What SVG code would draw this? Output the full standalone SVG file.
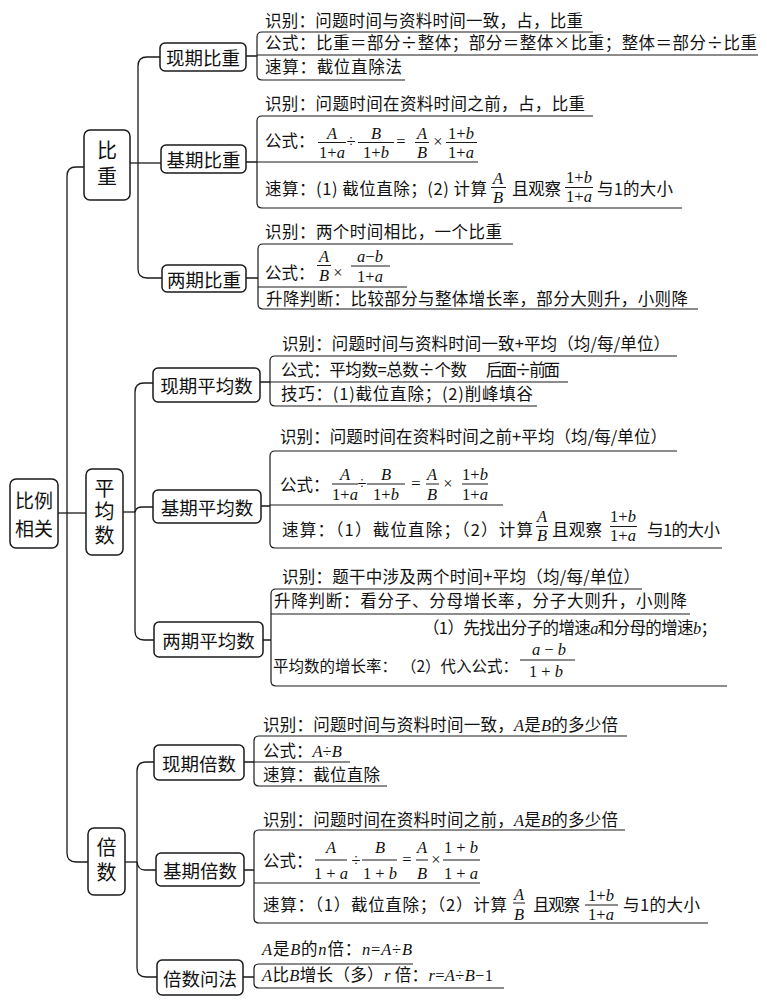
<svg xmlns="http://www.w3.org/2000/svg" width="767" height="1004" viewBox="0 0 767 1004">
<style>
.bx{fill:#fff;stroke:#1a1a1a;stroke-width:1.5}
.ln{fill:none;stroke:#1a1a1a;stroke-width:1.3}
.ul{fill:none;stroke:#1a1a1a;stroke-width:1.2}
.fb{stroke:#1a1a1a;stroke-width:1}
.nt{font-family:"Noto Sans CJK SC",sans-serif;font-size:18.5px;fill:#111;text-anchor:middle;dominant-baseline:central}
.bt{font-size:20px}
.vt{font-family:"Noto Sans CJK SC",sans-serif;font-size:20px;fill:#111;text-anchor:middle;writing-mode:vertical-rl}
.t{font-family:"Noto Sans CJK SC",sans-serif;font-size:16.5px;fill:#111}
.m{font-family:"Liberation Serif",serif;font-size:16.5px;fill:#111;text-anchor:middle}
.i{font-family:"Liberation Serif",serif;font-style:italic}
</style>
<rect width="767" height="1004" fill="#fff"/>

<g id="connectors" class="ln">
<path d="M58 513H86"/>
<path d="M84 167H76Q67 167 67 176V853Q67 862 76 862H88"/>
<path d="M130 163H161"/>
<path d="M160 57H147Q138 57 138 66V269Q138 278 147 278H162"/>
<path d="M123 512H135"/>
<path d="M135 512Q136 507 142 507H153"/>
<path d="M153 383H144Q135 383 135 392V631Q135 640 144 640H154"/>
<path d="M125 862H137"/>
<path d="M137 862Q138 870 145 870H156"/>
<path d="M154 762H146Q137 762 137 771V968Q137 977 146 977H157"/>
<path d="M246 56H257M246 162H257M246 278H258M260 382H270M261 506H270M263 640H271M244 762H254M244 870H254M243 977H254"/>
</g>

<g id="root">
<rect class="bx" x="10" y="479" width="48" height="69" rx="6"/>
<text class="nt" style="font-size:19px"><tspan x="34" y="499">比例</tspan><tspan x="34" y="526.5">相关</tspan></text>
</g>

<g id="bizhong">
<rect class="bx" x="84" y="130" width="46" height="70" rx="6"/>
<text class="vt" x="107" y="166" style="letter-spacing:6px">比重</text>
</g>

<g id="pingjunshu">
<rect class="bx" x="86" y="469" width="37" height="86" rx="6"/>
<text class="vt" x="104.5" y="513.5" style="letter-spacing:3.5px">平均数</text>
</g>

<g id="beishu">
<rect class="bx" x="88" y="828" width="37" height="67" rx="6"/>
<text class="vt" x="106.5" y="862.5" style="letter-spacing:5px">倍数</text>
</g>

<g id="xianqi-bizhong">
<rect class="bx" x="160" y="43" width="86" height="28" rx="5"/>
<text class="nt" x="203" y="57">现期比重</text>
<path class="ul" d="M593 32H262Q257 32 257 37V75Q257 80 262 80H405M257 55H758"/>
<text class="t" x="265" y="27" textLength="318">识别：问题时间与资料时间一致，占，比重</text>
<text class="t" x="265" y="49" textLength="492">公式：比重＝部分÷整体；部分＝整体×比重；整体＝部分÷比重</text>
<text class="t" x="265" y="73" textLength="137">速算：截位直除法</text>
</g>

<g id="jiqi-bizhong">
<rect class="bx" x="161" y="145" width="85" height="28" rx="5"/>
<text class="nt" x="203.5" y="159">基期比重</text>
<path class="ul" d="M593 116H262Q257 116 257 121V203Q257 208 262 208H682M257 162H478"/>
<text class="t" x="265" y="110" textLength="320">识别：问题时间在资料时间之前，占，比重</text>
<text class="t" x="265" y="147">公式：</text>
<text class="m i" x="332" y="139">A</text><line class="fb" x1="318" y1="142.5" x2="346" y2="142.5"/><text class="m" x="332" y="158">1+<tspan class="i">a</tspan></text>
<text class="m" x="351" y="147">÷</text>
<text class="m i" x="376" y="139">B</text><line class="fb" x1="358" y1="142.5" x2="394" y2="142.5"/><text class="m" x="376" y="158">1+<tspan class="i">b</tspan></text>
<text class="m" x="401" y="147">=</text>
<text class="m i" x="422" y="139">A</text><line class="fb" x1="415" y1="142.5" x2="429" y2="142.5"/><text class="m i" x="422" y="158">B</text>
<text class="m" x="438" y="147">×</text>
<text class="m" x="461" y="139">1+<tspan class="i">b</tspan></text><line class="fb" x1="446" y1="142.5" x2="477" y2="142.5"/><text class="m" x="461" y="158">1+<tspan class="i">a</tspan></text>
<text class="t" x="265" y="195" textLength="222">速算：(1) 截位直除；(2) 计算</text>
<text class="m i" x="498" y="184">A</text><line class="fb" x1="491" y1="187.5" x2="506" y2="187.5"/><text class="m i" x="498" y="203">B</text>
<text class="t" x="512" y="195" textLength="49">且观察</text>
<text class="m" x="579" y="183">1+<tspan class="i">b</tspan></text><line class="fb" x1="565" y1="187.5" x2="593" y2="187.5"/><text class="m" x="579" y="202">1+<tspan class="i">a</tspan></text>
<text class="t" x="597" y="195" textLength="76">与1的大小</text>
</g>

<g id="liangqi-bizhong">
<rect class="bx" x="162" y="265" width="84" height="27" rx="5"/>
<text class="nt" x="204" y="278.5">两期比重</text>
<path class="ul" d="M513 244H263Q258 244 258 249V304Q258 309 263 309H698M258 287H407"/>
<text class="t" x="265" y="238" textLength="237">识别：两个时间相比，一个比重</text>
<text class="t" x="265" y="279">公式：</text>
<text class="m i" x="324" y="262">A</text><line class="fb" x1="317" y1="265.5" x2="331" y2="265.5"/><text class="m i" x="324" y="281">B</text>
<text class="m" x="338" y="278">×</text>
<text class="m" x="370" y="262"><tspan class="i">a</tspan>−<tspan class="i">b</tspan></text><line class="fb" x1="351" y1="266" x2="390" y2="266"/><text class="m" x="370" y="282">1+<tspan class="i">a</tspan></text>
<text class="t" x="266" y="305" textLength="422">升降判断：比较部分与整体增长率，部分大则升，小则降</text>
</g>

<g id="xianqi-pingjunshu">
<rect class="bx" x="153" y="368" width="107" height="34" rx="5"/>
<text class="nt" x="206.5" y="385">现期平均数</text>
<path class="ul" d="M677 356H275Q270 356 270 361V401Q270 406 275 406H537M270 382H568"/>
<text class="t" x="282" y="350" textLength="388">识别：问题时间与资料时间一致+平均（均/每/单位）</text>
<text class="t" x="281" y="376" textLength="186">公式：平均数=总数÷个数</text>
<text class="t" x="486" y="376" textLength="74">后面÷前面</text>
<text class="t" x="281" y="400" textLength="252">技巧：(1)截位直除；(2)削峰填谷</text>
</g>

<g id="jiqi-pingjunshu">
<rect class="bx" x="153" y="490" width="108" height="33" rx="5"/>
<text class="nt" x="207" y="506.5">基期平均数</text>
<path class="ul" d="M677 451H275Q270 451 270 456V543Q270 548 275 548H722M270 505H503"/>
<text class="t" x="280" y="443" textLength="387">识别：问题时间在资料时间之前+平均（均/每/单位）</text>
<text class="t" x="280" y="491">公式：</text>
<text class="m i" x="345" y="480">A</text><line class="fb" x1="332" y1="484" x2="358" y2="484"/><text class="m" x="345" y="500">1+<tspan class="i">a</tspan></text>
<text class="m" x="362" y="489">÷</text>
<text class="m i" x="386" y="480">B</text><line class="fb" x1="367" y1="484" x2="405" y2="484"/><text class="m" x="386" y="500">1+<tspan class="i">b</tspan></text>
<text class="m" x="416" y="489">=</text>
<text class="m i" x="432" y="480">A</text><line class="fb" x1="426" y1="484" x2="439" y2="484"/><text class="m i" x="432" y="500">B</text>
<text class="m" x="448" y="489">×</text>
<text class="m" x="475" y="480">1+<tspan class="i">b</tspan></text><line class="fb" x1="462" y1="484" x2="488" y2="484"/><text class="m" x="475" y="500">1+<tspan class="i">a</tspan></text>
<text class="t" x="282" y="536" textLength="251">速算：（1）截位直除；（2）计算</text>
<text class="m i" x="542" y="522">A</text><line class="fb" x1="536" y1="526.5" x2="548" y2="526.5"/><text class="m i" x="542" y="541">B</text>
<text class="t" x="552" y="536" textLength="50">且观察</text>
<text class="m" x="623" y="522">1+<tspan class="i">b</tspan></text><line class="fb" x1="610" y1="526.5" x2="637" y2="526.5"/><text class="m" x="623" y="541">1+<tspan class="i">a</tspan></text>
<text class="t" x="647" y="536" textLength="73">与1的大小</text>
</g>

<g id="liangqi-pingjunshu">
<rect class="bx" x="154" y="622" width="109" height="35" rx="5"/>
<text class="nt" x="208.5" y="639.5">两期平均数</text>
<path class="ul" d="M642 589H276Q271 589 271 594V681Q271 686 276 686H727M271 614H690"/>
<text class="t" x="282" y="583" textLength="358">识别：题干中涉及两个时间+平均（均/每/单位）</text>
<text class="t" x="274" y="607" textLength="413">升降判断：看分子、分母增长率，分子大则升，小则降</text>
<text class="t" x="423" y="634" textLength="294">（1）先找出分子的增速<tspan class="i">a</tspan>和分母的增速<tspan class="i">b</tspan>；</text>
<text class="t" x="273" y="672" style="font-size:15.5px">平均数的增长率：</text>
<text class="t" x="401" y="672" style="font-size:15.5px">（2）代入公式：</text>
<text class="m" x="549" y="655"><tspan class="i">a</tspan> − <tspan class="i">b</tspan></text><line class="fb" x1="520" y1="660" x2="575" y2="660"/><text class="m" x="546" y="677">1 + <tspan class="i">b</tspan></text>
</g>

<g id="xianqi-beishu">
<rect class="bx" x="154" y="745" width="90" height="35" rx="5"/>
<text class="nt" x="199" y="762.5">现期倍数</text>
<path class="ul" d="M627 736H259Q254 736 254 741V781Q254 786 259 786H387M254 762H350"/>
<text class="t" x="263" y="731" textLength="355">识别：问题时间与资料时间一致，<tspan class="i">A</tspan>是<tspan class="i">B</tspan>的多少倍</text>
<text class="t" x="263" y="757">公式：<tspan class="i">A</tspan><tspan font-family="Liberation Serif">÷</tspan><tspan class="i">B</tspan></text>
<text class="t" x="263" y="781" textLength="117">速算：截位直除</text>
</g>

<g id="jiqi-beishu">
<rect class="bx" x="156" y="853" width="88" height="33" rx="5"/>
<text class="nt" x="200" y="869.5">基期倍数</text>
<path class="ul" d="M625 830H259Q254 830 254 835V918Q254 923 259 923H708M254 883H480"/>
<text class="t" x="263" y="826" textLength="355">识别：问题时间在资料时间之前，<tspan class="i">A</tspan>是<tspan class="i">B</tspan>的多少倍</text>
<text class="t" x="263" y="867">公式：</text>
<text class="m i" x="331" y="853">A</text><line class="fb" x1="315" y1="860" x2="347" y2="860"/><text class="m" x="331" y="879">1 + <tspan class="i">a</tspan></text>
<text class="m" x="356" y="866">÷</text>
<text class="m i" x="380" y="853">B</text><line class="fb" x1="362" y1="860" x2="397" y2="860"/><text class="m" x="380" y="879">1 + <tspan class="i">b</tspan></text>
<text class="m" x="407" y="865">=</text>
<text class="m i" x="422" y="853">A</text><line class="fb" x1="416" y1="860" x2="428" y2="860"/><text class="m i" x="422" y="879">B</text>
<text class="m" x="436" y="865">×</text>
<text class="m" x="461" y="853">1 + <tspan class="i">b</tspan></text><line class="fb" x1="443" y1="860" x2="480" y2="860"/><text class="m" x="461" y="879">1 + <tspan class="i">a</tspan></text>
<text class="t" x="263" y="911" textLength="244">速算：（1）截位直除；（2）计算</text>
<text class="m i" x="519" y="900">A</text><line class="fb" x1="513" y1="903" x2="525" y2="903"/><text class="m i" x="519" y="920">B</text>
<text class="t" x="533" y="911" textLength="47">且观察</text>
<text class="m" x="601" y="901">1+<tspan class="i">b</tspan></text><line class="fb" x1="585" y1="905" x2="618" y2="905"/><text class="m" x="601" y="920">1+<tspan class="i">a</tspan></text>
<text class="t" x="623" y="911" textLength="77">与1的大小</text>
</g>

<g id="beishu-wenfa">
<rect class="bx" x="157" y="960" width="86" height="35" rx="5"/>
<text class="nt" x="200" y="977.5">倍数问法</text>
<path class="ul" d="M413 964H259Q254 964 254 969V983Q254 988 259 988H504"/>
<text class="t" x="262" y="955" textLength="150"><tspan class="i">A</tspan>是<tspan class="i">B</tspan>的<tspan class="i">n</tspan>倍：<tspan class="i">n</tspan><tspan font-family="Liberation Serif">=</tspan><tspan class="i">A</tspan><tspan font-family="Liberation Serif">÷</tspan><tspan class="i">B</tspan></text>
<text class="t" x="262" y="981" textLength="231"><tspan class="i">A</tspan>比<tspan class="i">B</tspan>增长（多）<tspan class="i">r</tspan> 倍：<tspan class="i">r</tspan><tspan font-family="Liberation Serif">=</tspan><tspan class="i">A</tspan><tspan font-family="Liberation Serif">÷</tspan><tspan class="i">B</tspan><tspan font-family="Liberation Serif">−1</tspan></text>
</g>
</svg>
